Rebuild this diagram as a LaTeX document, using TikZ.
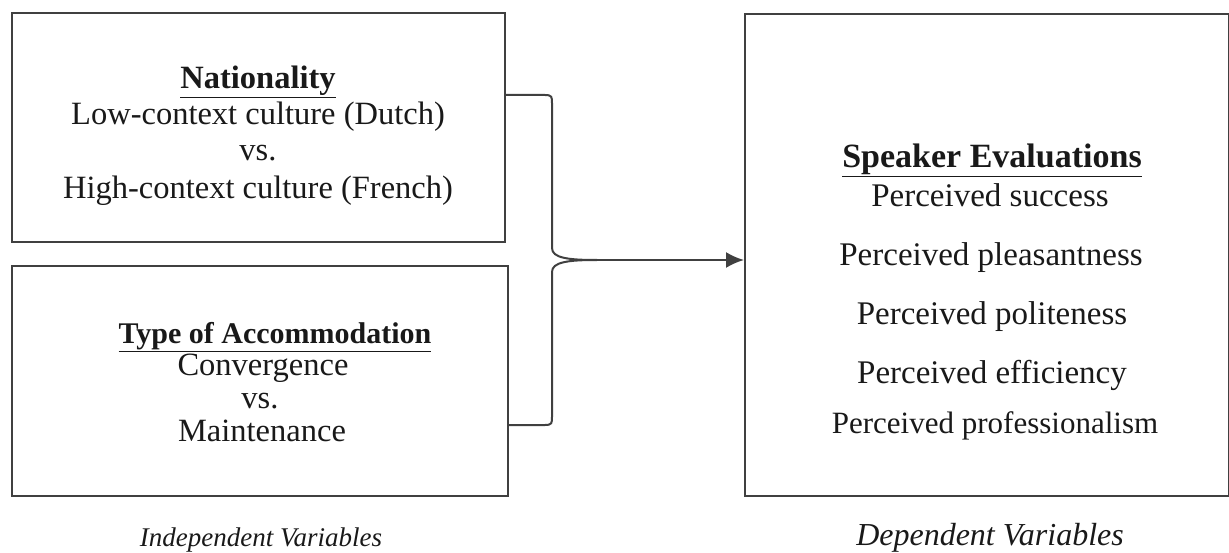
\documentclass[tikz,border=0pt]{standalone}
\usepackage{fontspec}
\setmainfont{Liberation Serif}
\usetikzlibrary{arrows.meta}
\tikzset{
  box/.style={draw=black!75, line width=2pt, minimum width=#1, inner sep=0pt},
  txt/.style={font=\fontsize{#1}{#1}\selectfont, text=black!90, inner sep=0pt, anchor=base},
  txt/.default=32.5,
  captxt/.style={font=\fontsize{#1}{#1}\selectfont\itshape, text=black!90, inner sep=0pt, anchor=base},
  link/.style={draw=black!75, line width=2pt}
}
\begin{document}
\begin{tikzpicture}[x=1pt,y=-1pt]
\useasboundingbox (0,0) rectangle (1229,553);
% boxes
\node[box=493pt, minimum height=229pt] (b1) at (258.5,127.5) {};
\node[box=496pt, minimum height=230pt] (b2) at (260,381) {};
\node[box=484pt, minimum height=482pt] (b3) at (987,255) {};
% box 1 text
\node[txt] (n1) at (258,89) {\textbf{\underline{Nationality}}};
\node[txt] (n2) at (258,125) {Low-context culture (Dutch)};
\node[txt] (n3) at (258,161) {vs.};
\node[txt] (n4) at (258,199) {High-context culture (French)};
% box 2 text
\node[txt=30] (t1) at (275,343) {\textbf{\underline{Type of Accommodation}}};
\node[txt] (t2) at (263,375) {Convergence};
\node[txt] (t3) at (260,408) {vs.};
\node[txt] (t4) at (262,441) {Maintenance};
% box 3 text
\node[txt=34] (s1) at (992,168) {\textbf{\underline{Speaker Evaluations}}};
\node[txt=33] (s2) at (990,207) {Perceived success};
\node[txt=33] (s3) at (991,266) {Perceived pleasantness};
\node[txt=33] (s4) at (992,325) {Perceived politeness};
\node[txt=33] (s5) at (992,383) {Perceived efficiency};
\node[txt=31] (s6) at (995,433) {Perceived professionalism};
% captions
\node[captxt=27] (c1) at (261,546) {Independent Variables};
\node[captxt=32] (c2) at (990,545) {Dependent Variables};
% brace
\coordinate (bt) at (b1.east |- 0,95);
\coordinate (bb) at (b2.east |- 0,425);
\coordinate (tip) at (597,260);
\path[link] (bt) -- (545,95) .. controls (552,95) and (552,97) .. (552,103)
  -- (552,248) .. controls (552,258) and (568,260) .. (tip)
  .. controls (568,260) and (552,262) .. (552,272)
  -- (552,417) .. controls (552,423) and (552,425) .. (545,425) -- (bb);
\draw[link, -{Latex[length=18pt,width=16pt]}] (tip) -- (b3.west |- tip);
\end{tikzpicture}
\end{document}
